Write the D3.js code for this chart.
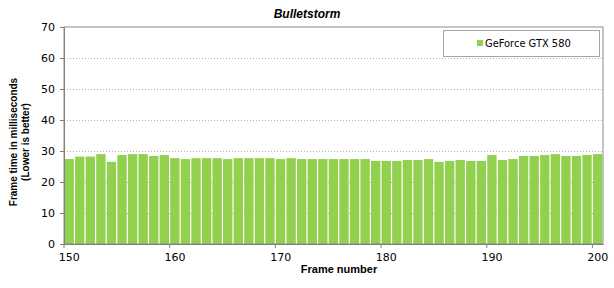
<!DOCTYPE html>
<html>
<head>
<meta charset="utf-8">
<style>
  body { margin: 0; background: #fff; }
  svg { display: block; }
</style>
</head>
<body>
<script src="https://cdn.jsdelivr.net/npm/d3@7"></script>
<script>

// data
var title = 'Bulletstorm';
var seriesName = 'GeForce GTX 580';
var frames = d3.range(150, 201);
var frameTimes = [
  27.4, 28.2, 28.2, 29.0, 26.5, 28.7, 29.0, 29.0, 28.4, 28.7,
  27.7, 27.4, 27.7, 27.7, 27.7, 27.4, 27.7, 27.7, 27.7, 27.7,
  27.4, 27.7, 27.4, 27.4, 27.4, 27.4, 27.4, 27.4, 27.4, 26.8,
  26.8, 26.8, 27.1, 27.1, 27.4, 26.5, 26.8, 27.1, 26.8, 26.8,
  28.7, 27.1, 27.4, 28.4, 28.4, 28.7, 29.0, 28.4, 28.4, 28.7,
  29.0
];
var yTicks = [0, 10, 20, 30, 40, 50, 60, 70];
var xTicks = [150, 160, 170, 180, 190, 200];

var data = frames.map((f, i) => ({frame: f, value: frameTimes[i]}));

var W = 614, H = 288;
var margin = {top: 27, right: 11, bottom: 44, left: 64};
var width = W - margin.left - margin.right,
    height = H - margin.top - margin.bottom;

var svg = d3.select('body').append('svg')
  .attr('width', W).attr('height', H);

var plot = svg.append('g')
  .attr('transform', `translate(${margin.left},${margin.top})`);

var x = d3.scaleBand()
  .domain(frames)
  .range([0, width])
  .padding(0);

var y = d3.scaleLinear()
  .domain([0, 70])
  .range([height, 0]);

var tickFont = '"DejaVu Sans", sans-serif';
var labelFont = '"Liberation Sans", Arial, sans-serif';

// grid (behind bars)
plot.append('g')
  .call(d3.axisLeft(y).tickValues(yTicks.slice(1, -1)).tickSize(-width).tickFormat(''))
  .call(g => g.select('.domain').remove())
  .call(g => g.selectAll('.tick line')
    .attr('stroke', '#b0b0b0')
    .attr('stroke-dasharray', '1,2'));

// bars
plot.append('g')
  .selectAll('rect')
  .data(data)
  .join('rect')
    .attr('x', d => x(d.frame) + 0.5)
    .attr('width', x.bandwidth() - 1.2)
    .attr('y', d => y(d.value))
    .attr('height', d => y(0) - y(d.value))
    .attr('fill', '#92d050');

// plot frame
plot.append('rect')
  .attr('x', 0).attr('y', 0)
  .attr('width', width).attr('height', height)
  .attr('fill', 'none')
  .attr('stroke', '#8c8c8c');

// y axis
plot.append('g')
  .call(d3.axisLeft(y).tickValues(yTicks).tickSize(4).tickPadding(5))
  .call(g => g.select('.domain').attr('stroke', '#808080'))
  .call(g => g.selectAll('.tick line').attr('stroke', '#808080'))
  .call(g => g.selectAll('.tick text')
    .attr('font-family', tickFont).attr('font-size', 11).attr('fill', '#000'));

// x axis: ticks at band boundaries, labels at band centres
plot.append('g')
  .attr('transform', `translate(0,${height})`)
  .call(d3.axisBottom(x).tickValues(xTicks).tickSize(4).tickPadding(5).tickSizeOuter(0))
  .call(g => g.select('.domain').attr('stroke', '#808080'))
  .call(g => g.selectAll('.tick line')
    .attr('stroke', '#808080')
    .attr('transform', `translate(${-x.bandwidth() / 2},0)`))
  .call(g => g.selectAll('.tick text')
    .attr('font-family', tickFont).attr('font-size', 11).attr('fill', '#000'));

// title
svg.append('text')
  .attr('x', 307).attr('y', 18)
  .attr('text-anchor', 'middle')
  .attr('font-family', labelFont)
  .attr('font-size', 12)
  .attr('font-weight', 'bold')
  .attr('font-style', 'italic')
  .text(title);

// axis titles
svg.append('text')
  .attr('x', 339).attr('y', 273)
  .attr('text-anchor', 'middle')
  .attr('font-family', labelFont)
  .attr('font-size', 11)
  .attr('font-weight', 'bold')
  .text('Frame number');

var yTitle = svg.append('text')
  .attr('transform', 'translate(0,142) rotate(-90)')
  .attr('text-anchor', 'middle')
  .attr('font-family', labelFont)
  .attr('font-size', 10)
  .attr('font-weight', 'bold');
yTitle.append('tspan').attr('x', 0).attr('y', 17).text('Frame time in milliseconds');
yTitle.append('tspan').attr('x', 0).attr('y', 29).text('(Lower is better)');

// legend
var legend = svg.append('g').attr('transform', 'translate(443,30)');
legend.append('rect')
  .attr('x', 0.5).attr('y', 0.5)
  .attr('width', 156).attr('height', 26)
  .attr('fill', '#fff')
  .attr('stroke', '#a6a6a6');
legend.append('rect')
  .attr('x', 34).attr('y', 10)
  .attr('width', 6).attr('height', 6)
  .attr('fill', '#92d050');
legend.append('text')
  .attr('x', 42).attr('y', 17)
  .attr('font-family', '"DejaVu Sans Condensed", "DejaVu Sans", sans-serif')
  .attr('font-size', 11)
  .attr('fill', '#000')
  .text(seriesName);

</script>
</body>
</html>
